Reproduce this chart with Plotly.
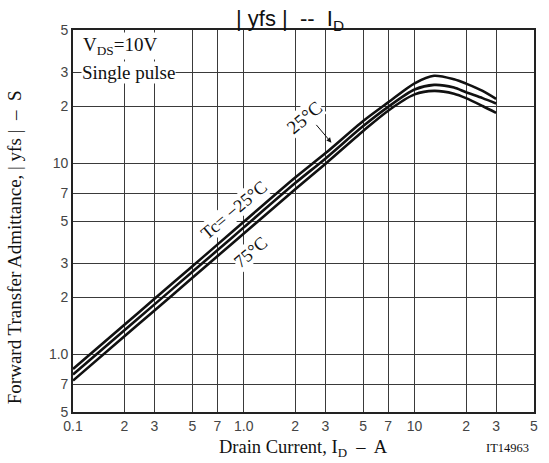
import plotly.graph_objects as go
import math

# Data
drain_current = [0.1, 0.2, 0.3, 0.5, 0.7, 1, 2, 3, 5, 7, 10, 13, 17, 20, 25, 30]
yfs_m25 = [0.84, 1.43, 1.96, 2.90, 3.76, 4.95, 8.44, 11.3, 16.7, 20.9, 26.3, 28.8, 27.6, 26.2, 24.0, 21.8]
yfs_25 = [0.785, 1.34, 1.83, 2.71, 3.51, 4.63, 7.9, 10.6, 15.7, 19.8, 24.4, 25.8, 25.0, 23.6, 22.0, 20.6]
yfs_75 = [0.73, 1.245, 1.70, 2.52, 3.27, 4.30, 7.33, 9.95, 14.8, 18.9, 23.0, 24.0, 23.2, 22.0, 20.0, 18.4]

x_tickvals = [0.1, 0.2, 0.3, 0.5, 0.7, 1, 2, 3, 5, 7, 10, 20, 30, 50]
x_ticktext = ["0.1", "2", "3", "5", "7", "1.0", "2", "3", "5", "7", "10", "2", "3", "5"]
y_tickvals = [0.5, 0.7, 1, 2, 3, 5, 7, 10, 20, 30, 50]
y_ticktext = ["5", "7", "1.0", "2", "3", "5", "7", "10", "2", "3", "5"]

fig = go.Figure()
for ys in (yfs_m25, yfs_25, yfs_75):
    fig.add_trace(go.Scatter(x=drain_current, y=ys, mode="lines",
                             line=dict(color="#111", width=2.6, shape="spline", smoothing=0.8),
                             showlegend=False, hoverinfo="skip"))

serif = "Liberation Serif"
sans = "Liberation Sans"

axis_common = dict(type="log", showgrid=True, gridcolor="#3a3a3a", gridwidth=1,
                   showline=True, linecolor="#222", linewidth=1.6, mirror=True,
                   ticks="", zeroline=False,
                   tickfont=dict(family=sans, size=14, color="#444"))

fig.update_xaxes(range=[math.log10(0.1), math.log10(50)], tickmode="array",
                 tickvals=x_tickvals, ticktext=x_ticktext, **axis_common)
fig.update_yaxes(range=[math.log10(0.5), math.log10(50)], tickmode="array",
                 tickvals=y_tickvals, ticktext=y_ticktext, **axis_common)

L = math.log10
annotations = [
    dict(text="| yfs |  --  I<sub>D</sub>", x=0.47, y=1.0, xref="paper", yref="paper",
         xanchor="center", yanchor="bottom", yshift=-6, showarrow=False,
         font=dict(family=sans, size=22, color="#111")),
    dict(text="Drain Current, I<sub>D</sub>  –  A", x=0.5, y=0, xref="paper", yref="paper",
         xanchor="center", yanchor="top", yshift=-23, showarrow=False,
         font=dict(family=serif, size=18.5, color="#111")),
    dict(text="Forward Transfer Admittance, | yfs |  –  S", x=0, y=0.43, xref="paper", yref="paper",
         xanchor="right", yanchor="middle", xshift=-46, textangle=-90, showarrow=False,
         font=dict(family=serif, size=19, color="#111")),
    dict(text="IT14963", x=1.0, y=0, xref="paper", yref="paper",
         xanchor="right", yanchor="top", yshift=-27, xshift=-3, showarrow=False,
         font=dict(family=serif, size=12.5, color="#111")),
    dict(text="V<sub>DS</sub>=10V", x=L(0.112), y=L(41), xref="x", yref="y",
         xanchor="left", yanchor="middle", showarrow=False, bgcolor="white",
         font=dict(family=serif, size=19, color="#111")),
    dict(text="Single pulse", x=L(0.112), y=L(30), xref="x", yref="y",
         xanchor="left", yanchor="middle", showarrow=False, bgcolor="white",
         borderpad=0, font=dict(family=serif, size=19, color="#111")),
    dict(text="Tc= −25°C", x=-0.058, y=0.757, xref="x", yref="y",
         showarrow=False, textangle=-40, bgcolor="white", borderpad=0,
         font=dict(family=serif, size=18, color="#111")),
    dict(text="75°C", x=0.041, y=0.537, xref="x", yref="y",
         showarrow=False, textangle=-40, bgcolor="white", borderpad=0,
         font=dict(family=serif, size=18, color="#111")),
    dict(text="25°C", x=0.355, y=1.24, xref="x", yref="y",
         showarrow=False, textangle=-40, bgcolor="white", borderpad=0,
         font=dict(family=serif, size=19, color="#111")),
    dict(text="", x=0.513, y=1.109, xref="x", yref="y", ax=0.417, ay=1.210,
         axref="x", ayref="y", showarrow=True, arrowhead=2, arrowsize=1,
         arrowwidth=1, arrowcolor="#111"),
]

fig.update_layout(width=549, height=463, margin=dict(l=73, r=11, t=30, b=51),
                  paper_bgcolor="white", plot_bgcolor="white",
                  annotations=annotations)

fig.write_html("out.html")
